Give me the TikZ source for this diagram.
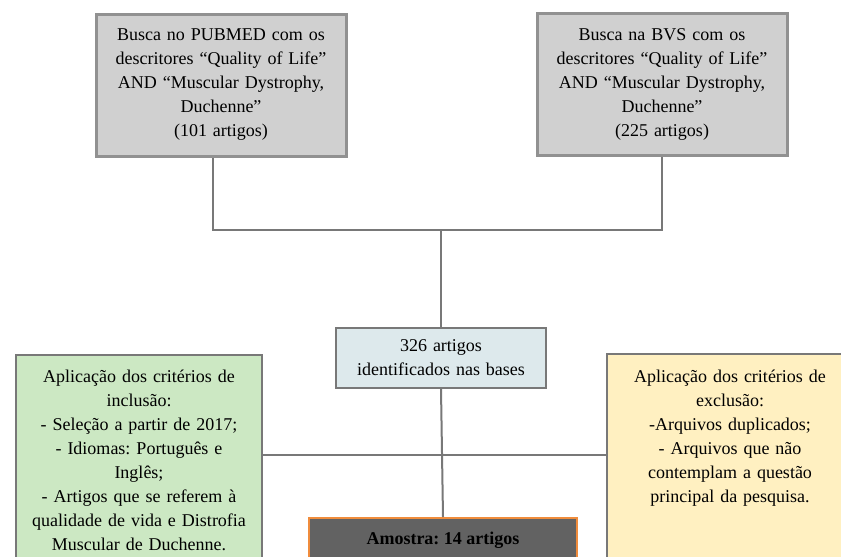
\documentclass[tikz,border=0pt]{standalone}
\usepackage{fontspec}
\setmainfont{Liberation Serif}
\usepackage{tikz}
\frenchspacing

\definecolor{searchfill}{RGB}{208,208,208}
\definecolor{searchedge}{RGB}{145,145,145}
\definecolor{idfill}{RGB}{221,233,236}
\definecolor{inclfill}{RGB}{204,232,195}
\definecolor{exclfill}{RGB}{255,240,193}
\definecolor{samplefill}{RGB}{98,98,98}
\definecolor{sampleedge}{RGB}{240,140,60}
\definecolor{linkgray}{RGB}{120,120,120}

\begin{document}
\begin{tikzpicture}[x=0.5pt,y=-0.5pt,
  every node/.style={font=\fontsize{9}{12}\selectfont, align=center, inner sep=0pt},
  search/.style={draw=searchedge, line width=1.5pt, fill=searchfill, minimum width=125pt, minimum height=71pt, text width=120pt},
  idbox/.style={draw=linkgray, line width=1pt, fill=idfill, minimum width=105pt, minimum height=30pt, text width=100pt},
  critbox/.style={draw=linkgray, line width=1pt, minimum width=123pt, minimum height=123pt},
  samplebox/.style={draw=sampleedge, line width=1pt, fill=samplefill, minimum width=134pt, minimum height=22pt, font=\fontsize{9}{12}\selectfont\bfseries},
  link/.style={draw=linkgray, line width=1pt}]
\useasboundingbox (0,0) rectangle (841,557);
\clip (0,0) rectangle (841,557);

\node[search] (pub) at (221,85) {Busca no PUBMED com os\\descritores “Quality of Life”\\AND “Muscular Dystrophy,\\Duchenne”\\(101 artigos)};
\node[search] (bvs) at (662,84) {Busca na BVS com os\\descritores “Quality of Life”\\AND “Muscular Dystrophy,\\Duchenne”\\(225 artigos)};
\node[idbox] (id) at (441,358) {326 artigos\\identificados nas bases};
\node[critbox, fill=inclfill] (incl) at (139,478) {};
\node[text width=118pt, anchor=north] (incltext) at (139,370) {Aplicação dos critérios de\\inclusão:\\- Seleção a partir de 2017;\\- Idiomas: Português e\\Inglês;\\- Artigos que se referem à\\qualidade de vida e Distrofia\\Muscular de Duchenne.};
\node[critbox, fill=exclfill] (excl) at (730,477) {};
\node[text width=118pt, anchor=north] (excltext) at (730,370) {Aplicação dos critérios de\\exclusão:\\-Arquivos duplicados;\\- Arquivos que não\\contemplam a questão\\principal da pesquisa.};
\node[samplebox] (sample) at (443,540) {Amostra: 14 artigos};

\coordinate (merge) at (441,230);
\coordinate (split) at (441,455);
\draw[link] ([xshift=-4pt]pub.south) |- (merge) -| (bvs.south);
\draw[link] (merge) -- (id.north);
\draw[link] (id.south) -- (sample.north);
\draw[link] (incl.east |- split) -- (excl.west |- split);
\end{tikzpicture}
\end{document}
